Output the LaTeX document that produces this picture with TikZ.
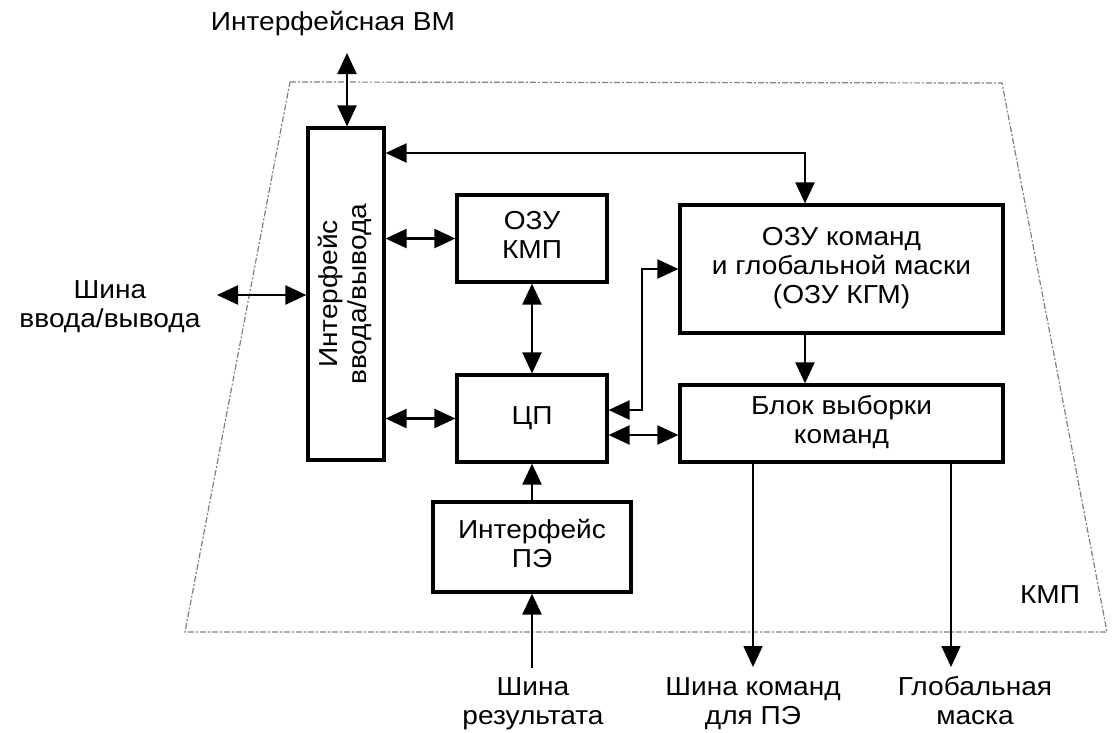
\documentclass[tikz,border=0pt]{standalone}
\usepackage{fontspec}
\setmainfont[FakeStretch=1.08]{Liberation Sans}
\usetikzlibrary{arrows.meta}
\begin{document}
\begin{tikzpicture}[x=1pt,y=-1pt,
  font=\fontsize{26}{29}\selectfont,
  box/.style={draw, line width=3.2pt, inner sep=0pt, align=center},
  lbl/.style={align=center, inner sep=0pt},
  link/.style={line width=2.2pt, arrows={-Triangle[length=21pt,width=19pt]}},
  dlink/.style={line width=2.2pt, arrows={Triangle[length=21pt,width=19pt]-Triangle[length=21pt,width=19pt]}},
  outlink/.style={line width=1.6pt, arrows={-Triangle[length=21pt,width=19pt]}},
  frame/.style={draw=black!50, line width=1.2pt, dash pattern=on 6pt off 2pt on 2pt off 2pt}
]
\useasboundingbox (0,0) rectangle (1113,732);

% outline of the controller
\draw[frame] (290,82) -- (1002,83) -- (1107,632) -- (185,632) -- cycle;
\node[lbl] (kmplbl) at (1050,595) {КМП};

% blocks
\node[box, minimum width=76pt, minimum height=332pt] (io) at (346,294) {};
\node[lbl, rotate=90] (iotext) at (io.center) {\strut Интерфейс\strut\\\strut ввода/вывода\strut};
\node[box, minimum width=150pt, minimum height=87pt] (ram) at (532,238.5) {\strut ОЗУ\\КМП\strut};
\node[box, minimum width=150pt, minimum height=87pt] (cpu) at (532,418.5) {\strut ЦП\strut};
\node[box, minimum width=198pt, minimum height=90pt] (pei) at (532,547) {\strut Интерфейс\\ПЭ\strut};
\node[box, minimum width=323pt, minimum height=128pt] (kgm) at (841.5,269) {\strut ОЗУ команд\\и глобальной маски\\(ОЗУ КГМ)\strut};
\node[box, minimum width=323pt, minimum height=77pt] (sel) at (841.5,423.5) {\strut Блок выборки\\команд\strut};

% external labels
\node[lbl] (vmlbl) at (333,25) {\strut Интерфейсная ВМ\strut};
\node[lbl] (buslbl) at (110,307) {\strut Шина\\ввода/вывода\strut};
\node[lbl] (reslbl) at (533,704) {\strut Шина\\результата\strut};
\node[lbl] (cmdlbl) at (753,704) {\strut Шина команд\\для ПЭ\strut};
\node[lbl] (masklbl) at (975,704) {\strut Глобальная\\маска\strut};

% free ends and bends of connectors
\coordinate (vm) at (347,53);
\coordinate (bus) at (217,295);
\coordinate (t1) at (805,153);
\coordinate (t2) at (642,410);
\coordinate (t3) at (640,435);
\coordinate (res) at (532,668);
\coordinate (o1) at (753,667);
\coordinate (o2) at (951,667);

% connectors
\draw[dlink] (vm) -- (vm |- io.north);
\draw[dlink] (bus) -- (io.west |- bus);
\draw[dlink] (io.east |- t1) -| (t1 |- kgm.north);
\draw[dlink] (io.east |- ram.west) -- (ram.west);
\draw[dlink] (io.east |- cpu.west) -- (cpu.west);
\draw[dlink] (ram.south) -- (cpu.north);
\draw[link] (pei.north) -- (cpu.south);
\draw[link] (res) -- (pei.south);
\draw[link] (t1 |- kgm.south) -- (t1 |- sel.north);
\draw[dlink] (kgm.west) -| (t2) -- (cpu.east |- t2);
\draw[dlink] (cpu.east |- t3) -- (sel.west |- t3);
\draw[outlink] (sel.south -| o1) -- (o1);
\draw[outlink] (sel.south -| o2) -- (o2);
\end{tikzpicture}
\end{document}
